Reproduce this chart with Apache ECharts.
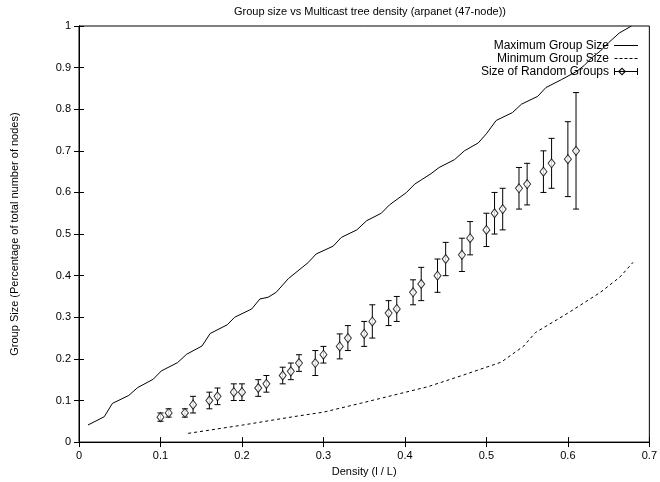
<!DOCTYPE html>
<html>
<head>
<meta charset="utf-8">
<script src="https://cdn.jsdelivr.net/npm/echarts@6/dist/echarts.min.js"></script>
<style>
  html, body { margin: 0; padding: 0; background: #fff; }
  #chart { width: 660px; height: 482px; }
</style>
</head>
<body>
<div id="chart"></div>
<script>
// data
var maxX = [0.011, 0.031, 0.041, 0.061, 0.072, 0.091, 0.101, 0.121, 0.132, 0.151, 0.161, 0.182, 0.191, 0.212, 0.222, 0.232, 0.242, 0.257, 0.281, 0.291, 0.312, 0.322, 0.341, 0.353, 0.371, 0.381, 0.402, 0.412, 0.42, 0.432, 0.442, 0.461, 0.473, 0.49, 0.50, 0.512, 0.532, 0.543, 0.563, 0.573, 0.592, 0.61, 0.62, 0.63, 0.64, 0.65, 0.663, 0.678];
var maxY = [0.041, 0.061, 0.093, 0.112, 0.131, 0.151, 0.171, 0.191, 0.211, 0.231, 0.261, 0.282, 0.30, 0.32, 0.344, 0.348, 0.36, 0.393, 0.431, 0.452, 0.471, 0.492, 0.51, 0.532, 0.55, 0.57, 0.60, 0.62, 0.63, 0.645, 0.66, 0.679, 0.70, 0.719, 0.741, 0.773, 0.792, 0.812, 0.831, 0.852, 0.871, 0.89, 0.905, 0.925, 0.94, 0.96, 0.983, 1.0];

var minX = [0.134, 0.201, 0.263, 0.30, 0.345, 0.428, 0.47, 0.518, 0.546, 0.56, 0.60, 0.64, 0.664, 0.68];
var minY = [0.021, 0.041, 0.061, 0.072, 0.093, 0.133, 0.16, 0.192, 0.231, 0.263, 0.31, 0.36, 0.397, 0.432];

var randX = [0.10, 0.11, 0.13, 0.14, 0.16, 0.17, 0.19, 0.20, 0.22, 0.23, 0.25, 0.26, 0.27, 0.29, 0.30, 0.32, 0.33, 0.35, 0.36, 0.38, 0.39, 0.41, 0.42, 0.44, 0.45, 0.47, 0.48, 0.50, 0.51, 0.52, 0.54, 0.55, 0.57, 0.58, 0.60, 0.61];
var randMean = [0.06, 0.07, 0.07, 0.09, 0.10, 0.11, 0.12, 0.12, 0.13, 0.14, 0.16, 0.17, 0.19, 0.19, 0.21, 0.23, 0.25, 0.26, 0.29, 0.31, 0.32, 0.36, 0.38, 0.40, 0.44, 0.45, 0.49, 0.51, 0.55, 0.56, 0.61, 0.62, 0.65, 0.67, 0.68, 0.70];
var randLow = [0.05, 0.06, 0.06, 0.07, 0.08, 0.09, 0.10, 0.10, 0.11, 0.12, 0.14, 0.15, 0.17, 0.16, 0.19, 0.20, 0.22, 0.23, 0.25, 0.28, 0.29, 0.33, 0.34, 0.36, 0.40, 0.41, 0.45, 0.47, 0.50, 0.51, 0.56, 0.57, 0.60, 0.61, 0.59, 0.56];
var randHigh = [0.07, 0.08, 0.08, 0.11, 0.12, 0.13, 0.14, 0.14, 0.15, 0.16, 0.18, 0.19, 0.21, 0.22, 0.23, 0.26, 0.28, 0.29, 0.33, 0.34, 0.35, 0.39, 0.42, 0.44, 0.48, 0.49, 0.53, 0.55, 0.60, 0.61, 0.66, 0.67, 0.70, 0.73, 0.77, 0.84];

var font = 'Liberation Sans, Arial, sans-serif';

function zip(a, b) {
  return a.map(function (v, i) { return [v, b[i]]; });
}

var errData = randX.map(function (x, i) { return [x, randLow[i], randHigh[i]]; });

// legend glyphs (the M0,0L0,0 / M0,10L0,10 bits pin the box height so thin strips are not stretched)
var solidIcon = 'path://M0,0L0,0M0,10L0,10M0,4.5H24V5.5H0Z';
var dashIcon = 'path://M0,0L0,0M0,10L0,10M0,4.5H3V5.5H0Z M5,4.5H8V5.5H5Z M10,4.5H13V5.5H10Z M15,4.5H18V5.5H15Z M20,4.5H23V5.5H20Z';
var errIcon = 'path://M0,0L0,0M0,10L0,10M0,4.5H24V5.5H0Z M0,1.5H1V8.5H0Z M23,1.5H24V8.5H23Z M8,1L12,5L8,9L4,5Z M8,2.6L5.6,5L8,7.4L10.4,5Z';

function tickLabel(v) {
  return String(Math.round(v * 10) / 10);
}

var myChart = echarts.init(document.getElementById('chart'));
myChart.setOption({
  animation: false,
  backgroundColor: '#fff',
  textStyle: { fontFamily: font, color: '#000' },
  title: {
    text: 'Group size vs Multicast tree density (arpanet (47-node))',
    left: 365,
    top: 1,
    textAlign: 'center',
    textStyle: { fontFamily: font, fontSize: 11, fontWeight: 'normal', color: '#000' }
  },
  legend: {
    orient: 'vertical',
    right: 22,
    top: 39,
    padding: 0,
    align: 'right',
    itemWidth: 24,
    itemHeight: 10,
    itemGap: 0,
    textStyle: { fontFamily: font, fontSize: 12, color: '#000', lineHeight: 13 },
    data: [
      { name: 'Maximum Group Size', icon: solidIcon, itemStyle: { color: '#000', borderWidth: 0 } },
      { name: 'Minimum Group Size', icon: dashIcon, itemStyle: { color: '#000', borderWidth: 0 } },
      { name: 'Size of Random Groups', icon: errIcon, itemStyle: { color: '#000', borderWidth: 0 } }
    ]
  },
  grid: {
    left: 79, right: 10, top: 26, bottom: 38,
    show: true, borderColor: '#000', borderWidth: 1
  },
  xAxis: [{
    type: 'value', min: 0, max: 0.7, interval: 0.1,
    name: 'Density (l / L)', nameLocation: 'middle', nameGap: 21,
    nameTextStyle: { fontFamily: font, fontSize: 11, color: '#000' },
    axisLine: { show: true, lineStyle: { color: '#000' } },
    axisTick: { inside: true, length: 5, lineStyle: { color: '#000' } },
    axisLabel: { fontFamily: font, fontSize: 11, color: '#000', margin: 8, formatter: tickLabel },
    splitLine: { show: false }
  }, {
    type: 'value', min: 0, max: 0.7, interval: 0.1, position: 'top',
    axisLine: { show: true, lineStyle: { color: '#000' } },
    axisTick: { inside: true, length: 5, lineStyle: { color: '#000' } },
    axisLabel: { show: false },
    splitLine: { show: false }
  }],
  yAxis: [{
    type: 'value', min: 0, max: 1, interval: 0.1,
    name: 'Group Size (Percentage of total number of nodes)', nameLocation: 'middle', nameGap: 59,
    nameRotate: 90,
    nameTextStyle: { fontFamily: font, fontSize: 11, color: '#000' },
    axisLine: { show: true, lineStyle: { color: '#000' } },
    axisTick: { inside: true, length: 5, lineStyle: { color: '#000' } },
    axisLabel: { fontFamily: font, fontSize: 11, color: '#000', margin: 8, formatter: tickLabel },
    splitLine: { show: false }
  }, {
    type: 'value', min: 0, max: 1, interval: 0.1, position: 'right',
    axisLine: { show: true, lineStyle: { color: '#000' } },
    axisTick: { inside: true, length: 5, lineStyle: { color: '#000' } },
    axisLabel: { show: false },
    splitLine: { show: false }
  }],
  series: [{
    name: 'Maximum Group Size',
    type: 'line',
    data: zip(maxX, maxY),
    symbol: 'none',
    lineStyle: { color: '#000', width: 1 },
    itemStyle: { color: '#000' }
  }, {
    name: 'Minimum Group Size',
    type: 'line',
    data: zip(minX, minY),
    symbol: 'none',
    lineStyle: { color: '#000', width: 1, type: [3, 3] },
    itemStyle: { color: '#000' }
  }, {
    name: 'Size of Random Groups',
    type: 'custom',
    data: errData,
    renderItem: function (params, api) {
      var x = api.value(0);
      var lo = api.coord([x, api.value(1)]);
      var hi = api.coord([x, api.value(2)]);
      var cap = 3;
      var st = { stroke: '#000', lineWidth: 1 };
      return {
        type: 'group',
        children: [
          { type: 'line', shape: { x1: lo[0], y1: lo[1], x2: hi[0], y2: hi[1] }, style: st },
          { type: 'line', shape: { x1: lo[0] - cap, y1: lo[1], x2: lo[0] + cap, y2: lo[1] }, style: st },
          { type: 'line', shape: { x1: hi[0] - cap, y1: hi[1], x2: hi[0] + cap, y2: hi[1] }, style: st }
        ]
      };
    },
    itemStyle: { color: '#000' },
    z: 2
  }, {
    name: 'Size of Random Groups',
    type: 'scatter',
    data: zip(randX, randMean),
    symbol: 'diamond',
    symbolSize: [7, 9],
    itemStyle: { color: '#fff', borderColor: '#000', borderWidth: 1 },
    z: 3
  }]
});
</script>
</body>
</html>
